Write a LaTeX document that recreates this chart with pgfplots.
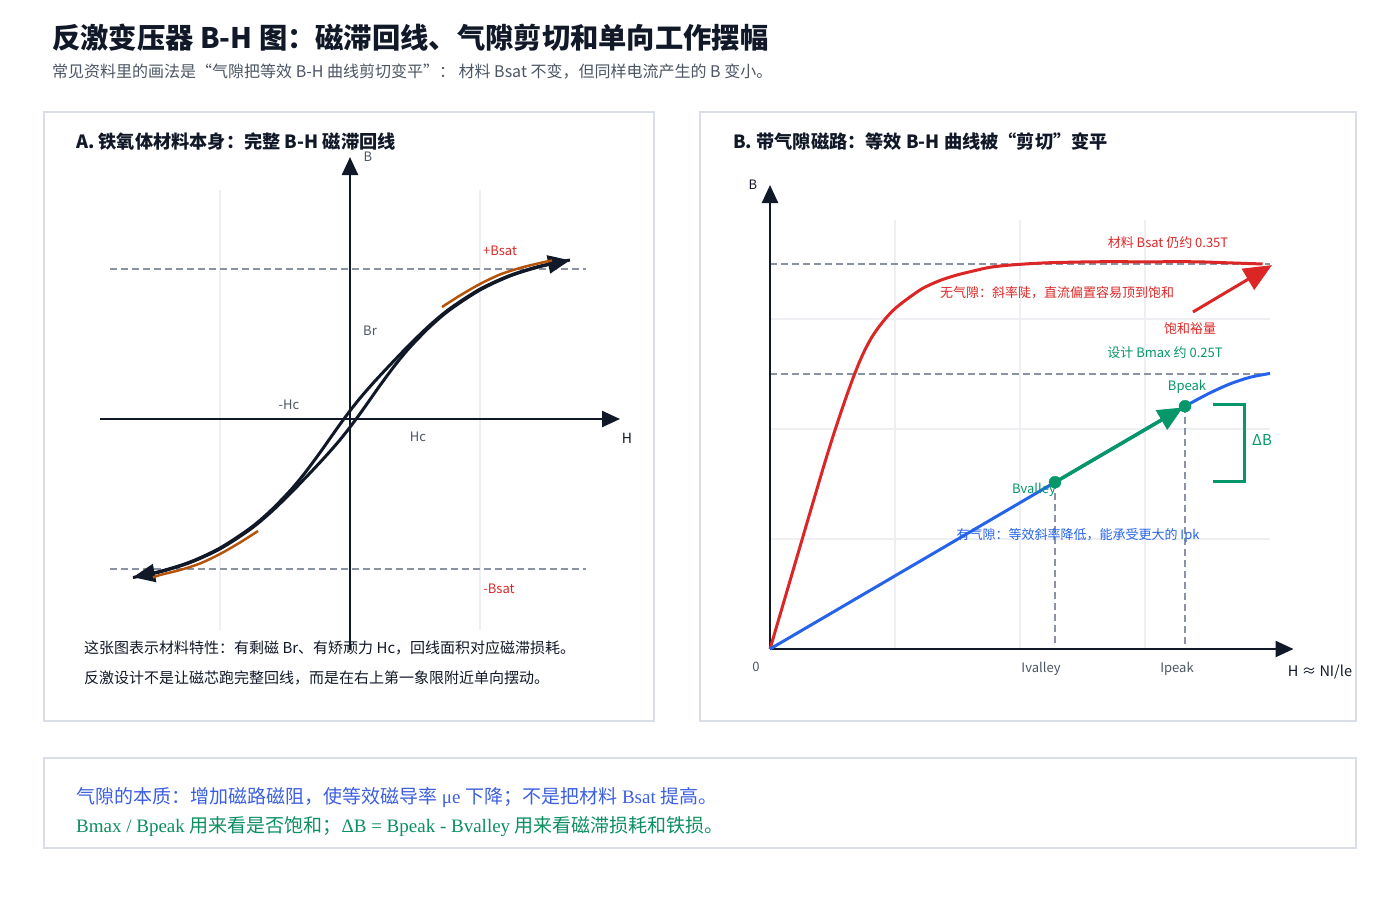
\documentclass[border=0pt]{standalone}
\usepackage{fontspec}
\setmainfont{Noto Sans CJK SC}
\newfontfamily\lser{Liberation Serif}
\usepackage{pgfplots}
\pgfplotsset{compat=1.18}
\usetikzlibrary{arrows.meta}
\definecolor{ttl}{HTML}{111827}
\definecolor{sub}{HTML}{4B5563}
\definecolor{boxc}{HTML}{D9DEE7}
\definecolor{gridc}{HTML}{EDEFF3}
\definecolor{dashc}{HTML}{8A93A3}
\definecolor{axc}{HTML}{111827}
\definecolor{lab}{HTML}{4B5563}
\definecolor{myred}{HTML}{DC2626}
\definecolor{mygreen}{HTML}{059669}
\definecolor{myblue}{HTML}{2563EB}
\definecolor{myorange}{HTML}{B45309}
\definecolor{botblue}{HTML}{3B5FE0}
\definecolor{botgreen}{HTML}{0B8F60}
\newcommand{\fs}[1]{\fontsize{#1}{#1}\selectfont}
\begin{document}
\begin{tikzpicture}
\path[use as bounding box] (0pt,0pt) rectangle (1400pt,-900pt);
% titles
\node[anchor=west,inner sep=0pt,text=ttl] at (52pt,-38pt) {\fs{28.3}\bfseries 反激变压器 B-H 图：磁滞回线、气隙剪切和单向工作摆幅};
\node[anchor=west,inner sep=0pt,text=sub] at (52pt,-72pt) {\fs{16}常见资料里的画法是“气隙把等效 B-H 曲线剪切变平”： 材料 Bsat 不变，但同样电流产生的 B 变小。};
% boxes
\draw[boxc, line width=1.5pt] (44pt,-112pt) rectangle (654pt,-721pt);
\draw[boxc, line width=1.5pt] (700pt,-112pt) rectangle (1356pt,-721pt);
\draw[boxc, line width=1.5pt] (44pt,-758pt) rectangle (1356pt,-848pt);
% panel titles
\node[anchor=west,inner sep=0pt,text=ttl] at (76pt,-142pt) {\fs{18.2}\bfseries A. 铁氧体材料本身：完整 B-H 磁滞回线};
\node[anchor=west,inner sep=0pt,text=ttl] at (733pt,-142pt) {\fs{18.2}\bfseries B. 带气隙磁路：等效 B-H 曲线被“剪切”变平};

% ---------------- Panel A ----------------
\begin{axis}[at={(100pt,-650pt)}, anchor=south west, scale only axis,
  width=520pt, height=492pt, xmin=-250, xmax=270, ymin=-231, ymax=261,
  hide axis, clip=false]
\draw[gridc, line width=1.5pt] (axis cs:-130,-211) -- (axis cs:-130,229);
\draw[gridc, line width=1.5pt] (axis cs:130,-211) -- (axis cs:130,229);
\draw[dashc, line width=1.5pt, dash pattern=on 7pt off 4pt] (axis cs:-240,150) -- (axis cs:236,150);
\draw[dashc, line width=1.5pt, dash pattern=on 7pt off 4pt] (axis cs:-240,-150) -- (axis cs:236,-150);
\draw[axc, line width=2.5pt, -{Triangle[length=18pt,width=16pt]}] (axis cs:-250,0) -- (axis cs:270,0);
\draw[axc, line width=2.5pt, -{Triangle[length=18pt,width=16pt]}] (axis cs:0,-231) -- (axis cs:0,262);
\addplot[axc, line width=3pt, smooth, -{Triangle[length=22pt,width=18pt]}] coordinates {
(-217,-158.5) (-190,-152.9) (-160,-143.6) (-130,-129.9) (-100,-110.5) (-80,-94.0) (-60,-74.8) (-45,-59.3) (-30,-43.4) (-20,-32.4) (-10,-20.8) (0,-8.2) (10,5.3) (20,19.4) (30,33.6) (45,53.8) (60,71.8) (80,92.3) (100,109.3) (130,129.0) (160,143.0) (190,152.4) (220,158.7)};
\addplot[axc, line width=3pt, smooth, -{Triangle[length=22pt,width=18pt]}] coordinates {
(220,159.0) (190,152.9) (160,143.6) (130,129.9) (100,110.5) (80,94.0) (60,74.8) (45,59.3) (30,43.4) (20,32.4) (10,20.8) (0,8.2) (-10,-5.3) (-20,-19.4) (-30,-33.6) (-45,-53.8) (-60,-71.8) (-80,-92.3) (-100,-109.3) (-130,-129.0) (-160,-143.0) (-190,-152.4) (-217,-158.2)};
\addplot[myorange, line width=2.5pt, smooth] coordinates {(92,112) (110,123.5) (130,135) (150,144.5) (170,151) (190,156) (202,158.5)};
\addplot[myorange, line width=2.5pt, smooth] coordinates {(-92,-112) (-110,-123.5) (-130,-135) (-150,-144.5) (-170,-151) (-190,-156) (-197,-158.5)};
\end{axis}
\node[text=lab] at (368pt,-157pt) {\fs{13}B};
\node[text=ttl] at (627pt,-438pt) {\fs{14}H};
\node[text=myred] at (500pt,-251pt) {\fs{13}+Bsat};
\node[text=myred] at (499pt,-589pt) {\fs{13}-Bsat};
\node[text=lab] at (370pt,-331pt) {\fs{13}Br};
\node[text=lab] at (289pt,-405pt) {\fs{13}-Hc};
\node[text=lab] at (418pt,-437pt) {\fs{13}Hc};
\node[anchor=west,inner sep=0pt,text=ttl] at (84pt,-648pt) {\fs{15}这张图表示材料特性：有剩磁 Br、有矫顽力 Hc，回线面积对应磁滞损耗。};
\node[anchor=west,inner sep=0pt,text=ttl] at (84pt,-678pt) {\fs{15}反激设计不是让磁芯跑完整回线，而是在右上第一象限附近单向摆动。};

% ---------------- Panel B ----------------
\begin{axis}[at={(770pt,-649pt)}, anchor=south west, scale only axis,
  width=525pt, height=464pt, xmin=0, xmax=1.05, ymin=0, ymax=0.4218,
  hide axis, clip=false]
\draw[gridc, line width=1.5pt] (axis cs:0.25,0) -- (axis cs:0.25,0.39);
\draw[gridc, line width=1.5pt] (axis cs:0.5,0) -- (axis cs:0.5,0.39);
\draw[gridc, line width=1.5pt] (axis cs:0.75,0) -- (axis cs:0.75,0.39);
\draw[gridc, line width=1.5pt] (axis cs:0,0.1) -- (axis cs:1.0,0.1);
\draw[gridc, line width=1.5pt] (axis cs:0,0.2) -- (axis cs:1.0,0.2);
\draw[gridc, line width=1.5pt] (axis cs:0,0.3) -- (axis cs:1.0,0.3);
\draw[dashc, line width=1.5pt, dash pattern=on 7pt off 4pt] (axis cs:0,0.35) -- (axis cs:1.0,0.35);
\draw[dashc, line width=1.5pt, dash pattern=on 7pt off 4pt] (axis cs:0,0.25) -- (axis cs:1.0,0.25);
\draw[dashc, line width=1.5pt, dash pattern=on 7pt off 4pt] (axis cs:0.57,0.1516) -- (axis cs:0.57,0.002);
\draw[dashc, line width=1.5pt, dash pattern=on 7pt off 4pt] (axis cs:0.83,0.2207) -- (axis cs:0.83,0.002);
\draw[axc, line width=2.5pt, -{Triangle[length=18pt,width=16pt]}] (axis cs:0,0) -- (axis cs:1.047,0);
\draw[axc, line width=2.5pt, -{Triangle[length=18pt,width=16pt]}] (axis cs:0,0) -- (axis cs:0,0.4218);
\addplot[myred, line width=3pt, smooth, tension=0.5] coordinates {
(0,0) (0.04,0.062) (0.08,0.124) (0.11,0.170) (0.13,0.199) (0.15,0.226) (0.165,0.245) (0.178,0.260) (0.19,0.272) (0.203,0.283) (0.218,0.293) (0.236,0.303) (0.254,0.311) (0.28,0.320) (0.306,0.328) (0.34,0.335) (0.374,0.340) (0.41,0.344) (0.44,0.347) (0.48,0.349) (0.55,0.351) (0.65,0.352) (0.75,0.352) (0.85,0.352) (0.92,0.351) (0.985,0.350)};
\addplot[myred, line width=3pt, -{Triangle[length=28pt,width=24pt]}] coordinates {(0.846,0.3064) (1.004,0.349)};
\addplot[myblue, line width=3pt, smooth] coordinates {
(0,0) (0.2,0.0532) (0.4,0.1064) (0.6,0.1596) (0.8,0.2128) (0.84,0.2232) (0.88,0.2328) (0.92,0.2410) (0.96,0.2470) (1.0,0.2505)};
\addplot[mygreen, line width=3.5pt, -{Triangle[length=25pt,width=22pt]}] coordinates {(0.57,0.1516) (0.826,0.2196)};
\addplot[only marks, mark=*, mark size=6pt, color=mygreen] coordinates {(0.57,0.1516) (0.83,0.2207)};
\addplot[mygreen, line width=3pt] coordinates {(0.886,0.2227) (0.948,0.2227) (0.948,0.1527) (0.886,0.1527)};
\end{axis}
\node[text=ttl] at (753pt,-185pt) {\fs{13}B};
\node[text=lab] at (756pt,-667pt) {\fs{13}0};
\node[text=lab] at (1041pt,-669pt) {\fs{13}Ivalley};
\node[text=lab] at (1177pt,-669pt) {\fs{13}Ipeak};
\node[text=ttl] at (1320pt,-672pt) {\fs{14.5}H ≈ NI/le};
\node[text=myred] at (1168pt,-243pt) {\fs{13}材料 Bsat 仍约 0.35T};
\node[text=myred] at (1057pt,-293pt) {\fs{13}无气隙：斜率陡，直流偏置容易顶到饱和};
\node[text=myred] at (1190pt,-329pt) {\fs{13}饱和裕量};
\node[text=mygreen] at (1165pt,-353pt) {\fs{13}设计 Bmax 约 0.25T};
\node[text=mygreen] at (1187pt,-387pt) {\fs{13}Bpeak};
\node[text=mygreen] at (1034pt,-490pt) {\fs{13}Bvalley};
\node[text=mygreen] at (1262pt,-440pt) {\fs{15}ΔB};
\node[text=myblue] at (1078pt,-535pt) {\fs{13}有气隙：等效斜率降低，能承受更大的 Ipk};

% bottom box
\node[anchor=west,inner sep=0pt,text=botblue] at (76pt,-797pt) {\fs{19}气隙的本质：增加磁路磁阻，使等效磁导率{\lser\ μe }下降；不是把材料{\lser\ Bsat }提高。};
\node[anchor=west,inner sep=0pt,text=botgreen] at (76pt,-827pt) {\fs{19}{\lser Bmax / Bpeak }用来看是否饱和；{\lser ΔB = Bpeak - Bvalley }用来看磁滞损耗和铁损。};
\end{tikzpicture}
\end{document}
